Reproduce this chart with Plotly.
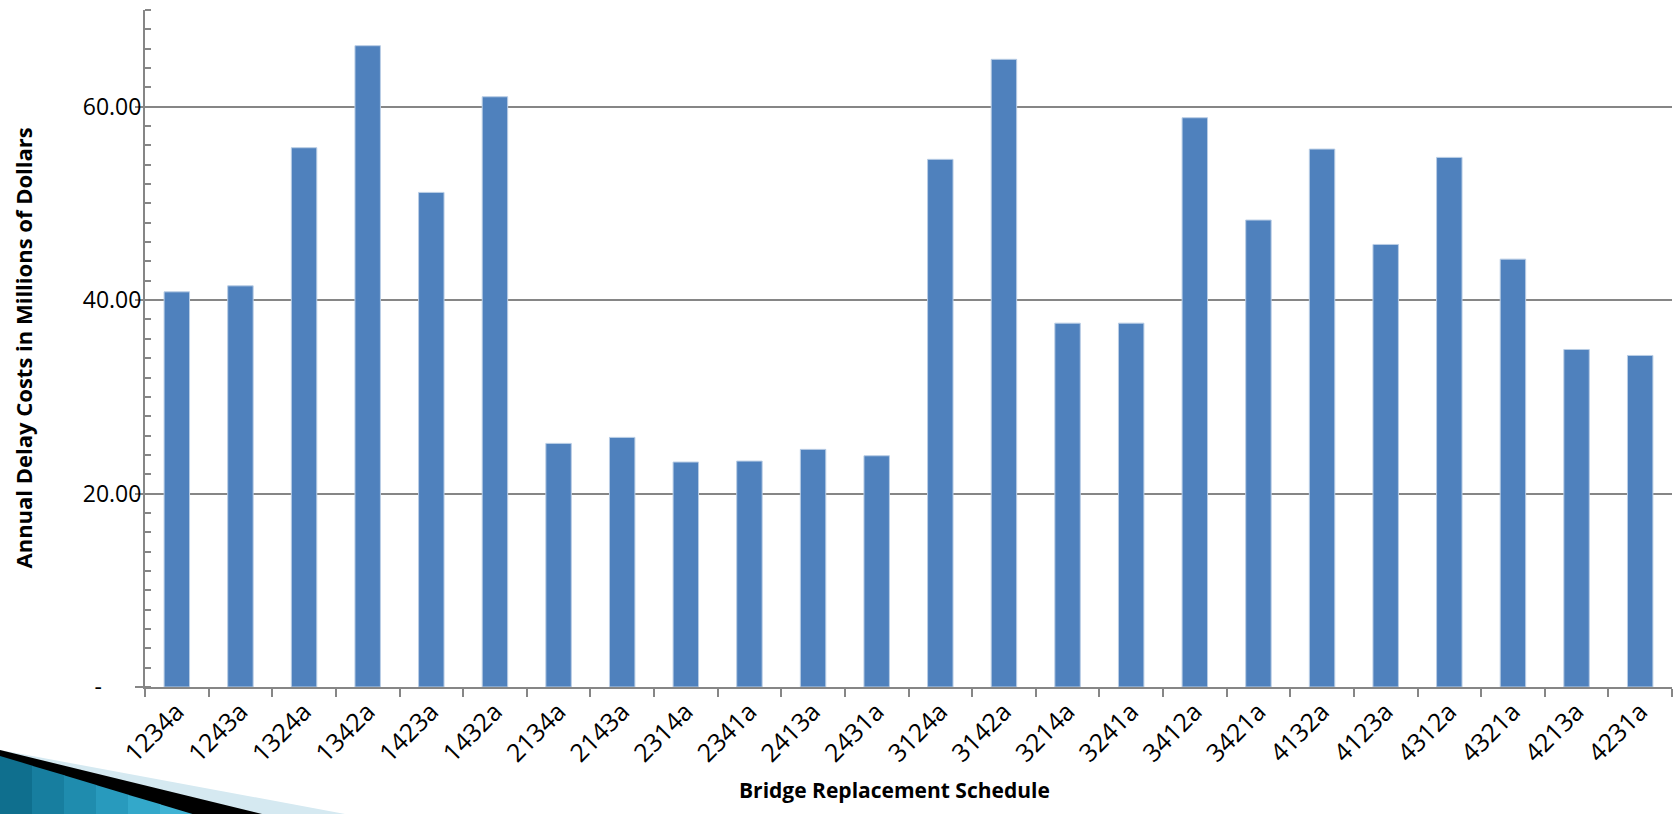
import plotly.graph_objects as go

# Bridge replacement schedules and their annual delay costs ($ millions)
schedules = [
    "1234a", "1243a", "1324a", "1342a", "1423a", "1432a",
    "2134a", "2143a", "2314a", "2341a", "2413a", "2431a",
    "3124a", "3142a", "3214a", "3241a", "3412a", "3421a",
    "4132a", "4123a", "4312a", "4321a", "4213a", "4231a",
]
delay_costs = [
    40.86, 41.48, 55.76, 66.31, 51.14, 61.03,
    25.19, 25.81, 23.26, 23.36, 24.57, 23.91,
    54.56, 64.90, 37.62, 37.62, 58.86, 48.28,
    55.62, 45.76, 54.76, 44.24, 34.90, 34.28,
]

y_tick_values = [0, 20, 40, 60]
# accounting-style zero: dash padded so it sits left of the digit column
y_tick_labels = ["-\u2007\u2007\u2007", "20.00", "40.00", "60.00"]

W, H = 1677, 814
ML, MR, MT, MB = 145, 5, 10, 127
AXIS_GREY = "#868686"
FONT = "Open Sans"

fig = go.Figure()
fig.add_trace(go.Bar(
    x=schedules,
    y=delay_costs,
    marker=dict(color="#4f81bd", line=dict(color="#b9cde5", width=1)),
    hoverinfo="x+y",
))

fig.update_layout(
    width=W, height=H,
    margin=dict(l=ML, r=MR, t=MT, b=MB, pad=0),
    paper_bgcolor="white",
    plot_bgcolor="white",
    bargap=0.6,
    showlegend=False,
    font=dict(family=FONT, color="black"),
)

fig.update_xaxes(
    type="category",
    showline=True, linecolor=AXIS_GREY, linewidth=2,
    tickson="boundaries",
    ticks="outside", ticklen=8, tickwidth=2, tickcolor=AXIS_GREY,
    tickangle=-45,
    tickfont=dict(family=FONT, size=25, color="black"),
    ticklabelstandoff=-2,
    showgrid=False,
    automargin=False,
)

fig.update_yaxes(
    range=[0, 70],
    tickvals=y_tick_values, ticktext=y_tick_labels,
    showline=True, linecolor=AXIS_GREY, linewidth=2,
    ticks="outside", ticklen=8, tickwidth=2, tickcolor=AXIS_GREY,
    minor=dict(dtick=2, ticks="inside", ticklen=6, tickwidth=2, tickcolor=AXIS_GREY, showgrid=False),
    showgrid=True, gridcolor=AXIS_GREY, gridwidth=2,
    zeroline=False,
    tickfont=dict(family=FONT, size=23, color="black"),
    ticklabelstandoff=-11,
    automargin=False,
)

# Axis titles
fig.add_annotation(
    text="<b>Bridge Replacement Schedule</b>",
    xref="paper", yref="paper",
    x=(894 - ML) / (W - ML - MR), y=-(790 - (H - MB)) / (H - MT - MB),
    xanchor="center", yanchor="middle", showarrow=False,
    font=dict(family=FONT, size=21, color="black"),
)
fig.add_annotation(
    text="<b>Annual Delay Costs in Millions of Dollars</b>",
    xref="paper", yref="paper",
    x=-(ML - 22) / (W - ML - MR), y=0.5,
    xanchor="center", yanchor="middle", textangle=-90, showarrow=False,
    font=dict(family=FONT, size=22, color="black"),
)


# Slide corner ornament (bottom-left), drawn in pixel space converted to paper
def px(x):
    return (x - ML) / (W - ML - MR)


def py(y):
    return ((H - MB) - y) / (H - MT - MB)


def poly(points, color):
    path = "M " + " L ".join(f"{px(x)},{py(y)}" for x, y in points) + " Z"
    fig.add_shape(type="path", path=path, xref="paper", yref="paper",
                  fillcolor=color, line=dict(width=0), layer="above")


poly([(0, 750), (345, 814), (0, 814)], "#d5e9f1")
poly([(0, 750), (262, 814), (0, 814)], "#000000")
teal_steps = ["#0f6f8e", "#177e9f", "#1f8cae", "#289abd", "#33a8ca", "#40b3d4"]
n = len(teal_steps)
for i, c in enumerate(teal_steps):
    x0 = 192 * i / n
    x1 = 192 * (i + 1) / n
    y0 = 756 + (814 - 756) * x0 / 192
    y1 = 756 + (814 - 756) * x1 / 192
    poly([(x0, y0), (x1 + 0.5, y1), (x1 + 0.5, 814), (x0, 814)], c)

fig.write_html("out.html")
